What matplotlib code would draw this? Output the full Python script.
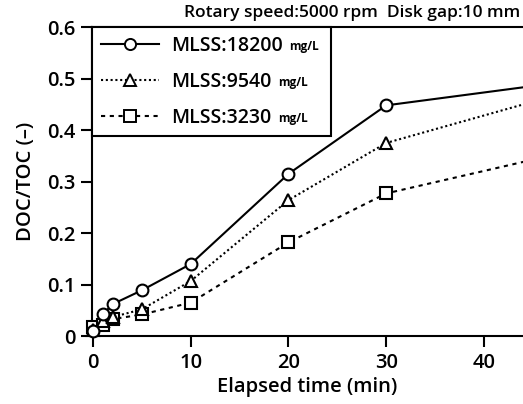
import numpy as np
import matplotlib.pyplot as plt
from matplotlib.lines import Line2D

plt.rcParams['font.family'] = ['Open Sans', 'DejaVu Sans']

# elapsed time (min)
time = [0, 1, 2, 5, 10, 20, 30, 60]

# DOC/TOC ratio for each sludge concentration
doc_18200 = [0.010, 0.042, 0.062, 0.089, 0.140, 0.315, 0.448, 0.523]
doc_9540 = [0.012, 0.030, 0.037, 0.052, 0.107, 0.264, 0.375, 0.535]
doc_3230 = [0.018, 0.021, 0.033, 0.042, 0.065, 0.182, 0.277, 0.408]

labels = ['MLSS:18200', 'MLSS:9540', 'MLSS:3230']
series = [doc_18200, doc_9540, doc_3230]
markers = ['o', '^', 's']
styles = ['-', (0, (1, 1.3)), (0, (2, 2.2))]

XMAX = 44

fig = plt.figure(figsize=(5.23, 4.04), dpi=100)
ax = fig.add_axes([0.176, 0.168, 0.824, 0.765])

handles = []
for i, (vals, mk, ls, lab) in enumerate(zip(series, markers, styles, labels)):
    # connecting line, clipped at the axes
    ax.plot(time, vals, color='black', linestyle=ls, linewidth=1.5, zorder=2)
    # markers drawn unclipped so the ones on the spine stay whole;
    # the high-MLSS series sits on top
    t = np.array(time)
    v = np.array(vals)
    keep = t <= XMAX
    ax.plot(t[keep], v[keep], linestyle='none', marker=mk, markersize=8.5,
            markerfacecolor='white', markeredgecolor='black',
            markeredgewidth=1.5, clip_on=False, zorder=5 - i)
    handles.append(Line2D([], [], color='black', linestyle=ls, linewidth=1.5,
                          marker=mk, markersize=8, markerfacecolor='white',
                          markeredgecolor='black', markeredgewidth=1.4,
                          label=lab))

ax.set_xlim(-0.1, XMAX)
ax.set_ylim(0, 0.6)
ax.set_xticks([0, 10, 20, 30, 40])
ax.set_yticks([0, 0.1, 0.2, 0.3, 0.4, 0.5, 0.6])
ax.set_yticklabels(['0', '0.1', '0.2', '0.3', '0.4', '0.5', '0.6'])

for side in ['top', 'left', 'bottom']:
    ax.spines[side].set_linewidth(1.5)
ax.spines['right'].set_visible(False)
ax.tick_params(direction='out', length=8, width=1.5, labelsize=14.5, pad=4)
for lbl in ax.get_xticklabels() + ax.get_yticklabels():
    lbl.set_fontweight('semibold')

ax.set_xlabel('Elapsed time (min)', fontsize=14.5, fontweight='semibold',
              labelpad=3)
ax.set_ylabel('DOC/TOC (\u2013)', fontsize=14.5, fontweight='semibold',
              labelpad=8)

leg = ax.legend(handles=handles, loc='upper left',
                bbox_to_anchor=(0.0, 0.66, 0.555, 0.34), mode='expand',
                prop={'size': 14, 'weight': 'semibold'},
                frameon=True, fancybox=False, edgecolor='black',
                handlelength=3.0, borderaxespad=0, borderpad=0.45,
                labelspacing=0.82, handletextpad=0.6)
leg.get_frame().set_linewidth(1.5)
leg.get_frame().set_alpha(1)
leg.set_zorder(10)

# small unit label after each legend entry
for txt in leg.get_texts():
    ax.annotate('mg/L', xy=(1, 0), xycoords=txt, xytext=(5, 2),
                textcoords='offset points', fontsize=8.5, fontweight='bold',
                va='bottom', ha='left', zorder=11)

fig.text(0.995, 0.948, 'Rotary speed:5000 rpm  Disk gap:10 mm',
         fontsize=12.5, fontweight='semibold', ha='right', va='bottom')

fig.savefig('out.png', dpi=100)
